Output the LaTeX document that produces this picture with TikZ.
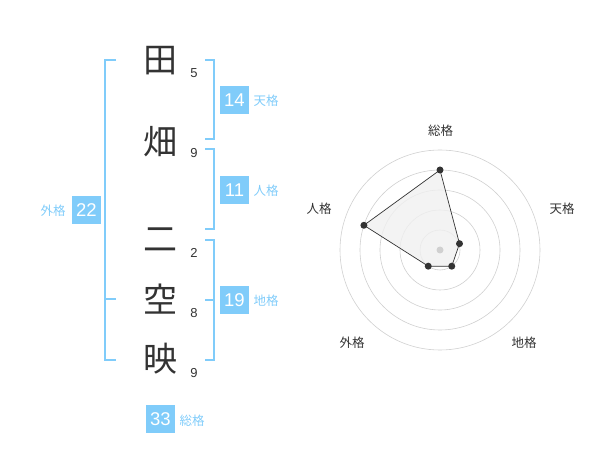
\documentclass[tikz,border=0pt]{standalone}
\usepackage{fontspec}
\usetikzlibrary{calc}
\setmainfont{Liberation Sans}
\newfontfamily\jp{Noto Sans CJK JP}
\definecolor{kblue}{RGB}{128,204,250}
\definecolor{kdark}{RGB}{51,51,51}
\definecolor{kgrid}{RGB}{208,208,208}
\definecolor{kfill}{RGB}{240,240,240}
\begin{document}
\begin{tikzpicture}[x=1pt,y=-1pt,
  kanji/.style={font=\jp\fontsize{34}{34}\selectfont, text=kdark, inner sep=0},
  strokenum/.style={font=\fontsize{13}{13}\selectfont, text=kdark, inner sep=0},
  numbox/.style={fill=kblue, text=white, minimum width=29pt, minimum height=28pt, inner sep=0, font=\fontsize{18.5}{18.5}\selectfont},
  klabel/.style={text=kblue, font=\jp\fontsize{12.5}{12.5}\selectfont, inner sep=0},
  brk/.style={draw=kblue, line width=1.6pt},
  grid/.style={draw=kgrid, line width=0.6pt},
  rlabel/.style={text=kdark, font=\jp\fontsize{12.5}{12.5}\selectfont, inner sep=0},
  dot/.style={circle, fill=kdark, minimum size=7pt, inner sep=0},
]
\useasboundingbox (0,0) rectangle (600,470);

% characters
\node[kanji] (c1) at (160,61) {田};
\node[kanji] (c2) at (160,142) {畑};
\node[kanji] (c3) at (160,240) {二};
\node[kanji] (c4) at (160,299) {空};
\node[kanji] (c5) at (160,359) {映};
% stroke counts
\node[strokenum] (s1) at (194,73) {5};
\node[strokenum] (s2) at (194,153) {9};
\node[strokenum] (s3) at (194,253) {2};
\node[strokenum] (s4) at (194,313) {8};
\node[strokenum] (s5) at (194,373) {9};

% brackets
\draw[brk] (116,60) -- (105,60) -- (105,360) -- (116,360);
\draw[brk] (105,299) -- (116,299);
\draw[brk] (205,60) -- (214,60) -- (214,139) -- (205,139);
\draw[brk] (205,149) -- (214,149) -- (214,229) -- (205,229);
\draw[brk] (205,240) -- (214,240) -- (214,360) -- (205,360);
\draw[brk] (205,300) -- (214,300);

% boxes
\node[numbox] (b22) at (86.5,210) {22};
\node[klabel] (l22) at (53,211) {外格};
\node[numbox] (b14) at (234.5,100.5) {14};
\node[klabel] (l14) at (266,101) {天格};
\node[numbox] (b11) at (234.5,190) {11};
\node[klabel] (l11) at (266,191) {人格};
\node[numbox] (b19) at (234.5,300) {19};
\node[klabel] (l19) at (266,301) {地格};
\node[numbox] (b33) at (160.5,419) {33};
\node[klabel] (l33) at (192,421) {総格};

% radar
\coordinate (o) at (440,250);
\foreach \r in {20,40,60,80,100} \draw[grid] (o) circle[radius=\r];
\coordinate (p1) at ($(o)+(-90:80)$);
\coordinate (p2) at ($(o)+(-18:20.5)$);
\coordinate (p3) at ($(o)+(54:20)$);
\coordinate (p4) at ($(o)+(126:20)$);
\coordinate (p5) at ($(o)+(198:80)$);
\fill[kfill, fill opacity=0.8] (p1) -- (p2) -- (p3) -- (p4) -- (p5) -- cycle;
\fill[kgrid] (o) circle[radius=3.5];
\draw[draw=kdark, line width=0.7pt] (p1) -- (p2) -- (p3) -- (p4) -- (p5) -- cycle;
\foreach \p in {p1,p2,p3,p4,p5} \node[dot] at (\p) {};
\node[rlabel] (r1) at (440.5,131) {総格};
\node[rlabel] (r2) at (562,208.5) {天格};
\node[rlabel] (r5) at (319,209) {人格};
\node[rlabel] (r4) at (352,342.5) {外格};
\node[rlabel] (r3) at (524,342.5) {地格};
\end{tikzpicture}
\end{document}
